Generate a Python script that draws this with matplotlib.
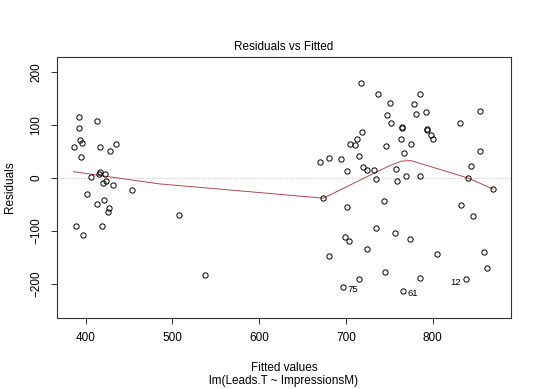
import matplotlib
matplotlib.use("Agg")
import matplotlib.pyplot as plt
import numpy as np

plt.rcParams['font.family'] = ['Liberation Sans', 'DejaVu Sans']

# fitted values / residuals
fitted = [392, 413, 392, 393, 396, 386, 416, 435, 428, 395, 417, 422, 415, 406,
          423, 420, 432, 454, 401, 421, 413, 427, 426, 389, 419, 397,
          508, 538,
          717, 737, 751, 747, 752, 765, 765, 764, 775, 778, 781, 719, 713, 705,
          710, 746, 715, 767, 670, 680, 694, 701, 720, 724, 733, 735, 758, 759, 769,
          786, 792, 793, 794, 798, 801, 831, 855, 855, 844, 841, 786, 870,
          674, 701, 744, 735, 757, 774, 699, 704, 724, 680, 745, 715, 697, 766,
          833, 846, 805, 859, 863, 786, 838]
resid = [115, 108, 94, 71, 66, 58, 59, 64, 51, 40, 12, 7, 8, 2,
         -6, -10, -13, -23, -30, -42, -49, -57, -64, -91, -91, -108,
         -69, -182,
         179, 158, 141, 119, 104, 96, 95, 74, 65, 139, 121, 86, 74, 64,
         63, 60, 41, 47, 30, 38, 36, 13, 21, 15, 16, -2, 17, -5, 4,
         158, 124, 92, 91, 82, 74, 103, 126, 51, 23, 0, 4, -20,
         -38, -55, -44, -94, -103, -115, -112, -119, -133, -147, -178, -190, -205, -213,
         -50, -71, -143, -139, -169, -189, -191]

# smoother (red line)
smooth_x = [386, 485, 612, 674, 720, 750, 764, 775, 841, 870]
smooth_y = [12, -11, -29, -38, -1, 23, 32, 33, 0, -21]

# labelled points
id_labels = ["75", "61", "12"]
id_x = [697, 766, 838]
id_y = [-205, -213, -191]
id_side = ["right", "right", "left"]

fig = plt.figure(figsize=(5.4, 3.89), dpi=100)
ax = fig.add_axes([0.1056, 0.1833, 0.8401, 0.6709])

ax.axhline(0, color='#c8c8c8', linestyle=':', linewidth=0.8, zorder=1)
ax.plot(fitted, resid, 'o', markerfacecolor='none', markeredgecolor='black',
        markersize=3.8, markeredgewidth=0.7, zorder=3)
ax.plot(smooth_x, smooth_y, color='#b04a52', linewidth=0.7, zorder=2)

for lab, x, y, side in zip(id_labels, id_x, id_y, id_side):
    dx = 3 if side == "right" else -3
    ax.annotate(lab, (x, y), xytext=(dx, -2), textcoords='offset points',
                ha='left' if side == "right" else 'right', va='center', fontsize=6.8)

ax.set_xlim(367, 890)
ax.set_ylim(-263.5, 229)
ax.set_xticks([400, 500, 600, 700, 800])
ax.set_yticks([-200, -100, 0, 100, 200])
ax.tick_params(labelsize=8.5, length=4.5, width=0.7, color='#333333', pad=6)
for lbl in ax.get_yticklabels():
    lbl.set_rotation(90)
    lbl.set_va('center')
for s in ax.spines.values():
    s.set_linewidth(0.8)
    s.set_color('#333333')

fig.text(0.526, 0.880, "Residuals vs Fitted", ha='center', va='center', fontsize=8.5)
fig.text(0.018, 0.519, "Residuals", rotation=90, ha='center', va='center', fontsize=8.5)
fig.text(0.526, 0.0548, "Fitted values", ha='center', va='center', fontsize=8.5)
fig.text(0.526, 0.0206, "lm(Leads.T ~ ImpressionsM)", ha='center', va='center', fontsize=8.5)

fig.savefig("out.png", dpi=100, facecolor='white')
